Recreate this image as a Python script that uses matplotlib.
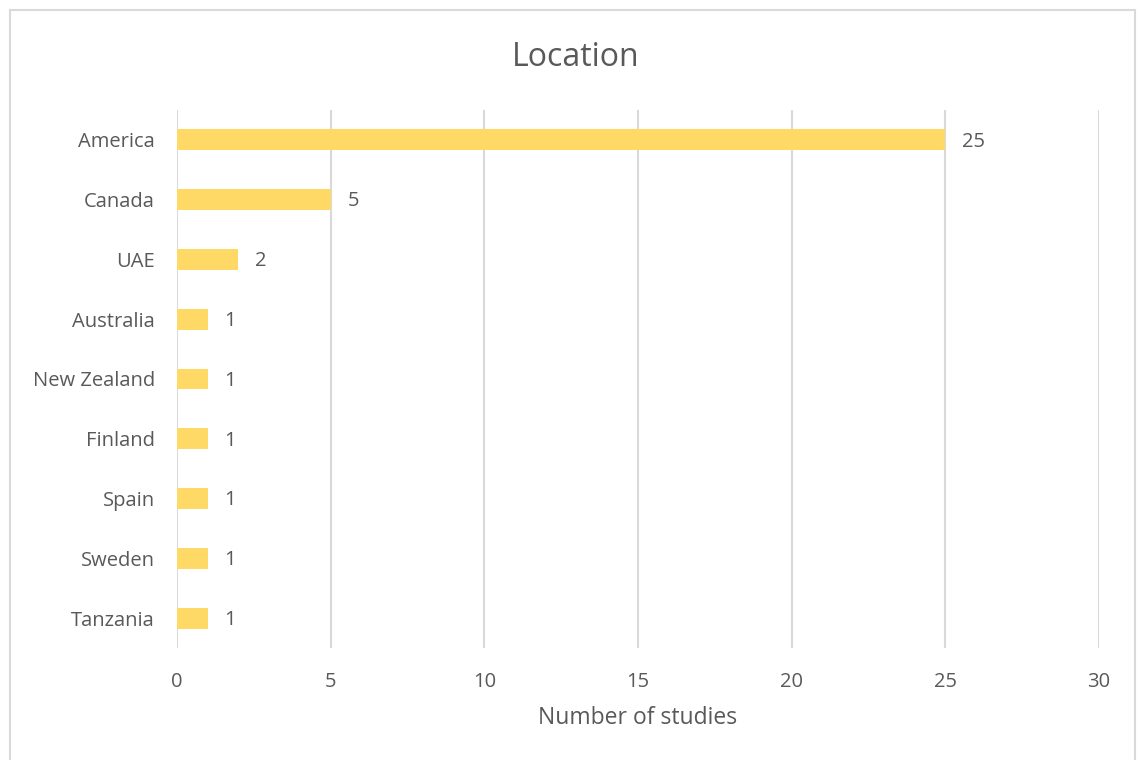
import matplotlib.pyplot as plt
from matplotlib.patches import Rectangle

countries = ['America', 'Canada', 'UAE', 'Australia', 'New Zealand',
             'Finland', 'Spain', 'Sweden', 'Tanzania']
studies = [25, 5, 2, 1, 1, 1, 1, 1, 1]

plt.rcParams['font.family'] = ['Open Sans', 'DejaVu Sans']
txt = '#595959'

fig = plt.figure(figsize=(11.38, 7.6), dpi=100)
fig.patches.append(Rectangle((10 / 1138, -0.01), 1125 / 1138, 1 - 10 / 760 + 0.01,
                             transform=fig.transFigure, fill=False,
                             edgecolor='#D9D9D9', linewidth=1.5))
ax = fig.add_axes([177 / 1138, 1 - 648 / 760, (1099 - 177) / 1138, (648 - 110) / 760])

y = list(range(len(countries)))
ax.barh(y, studies, height=0.35, color='#FFD966', zorder=3)
for yi, v in zip(y, studies):
    ax.text(v + 0.55, yi + 0.03, str(v), va='center', ha='left', fontsize=14.5, color=txt)

ax.set_ylim(len(countries) - 0.5, -0.5)
ax.set_yticks(y)
ax.set_yticklabels(countries)
ax.set_xlim(0, 30)
ax.set_xticks(range(0, 31, 5))
ax.grid(axis='x', color='#D9D9D9', linewidth=1.5, zorder=0)
for s in ax.spines.values():
    s.set_visible(False)
ax.tick_params(length=0, labelsize=14.5, labelcolor=txt)
ax.tick_params(axis='y', pad=16)
ax.tick_params(axis='x', pad=17)
ax.set_xlabel('Number of studies', fontsize=16.5, color=txt, labelpad=10)
fig.text(576 / 1138, 1 - 57 / 760, 'Location', ha='center', va='center',
         fontsize=23, color=txt)

fig.savefig('out.png')
